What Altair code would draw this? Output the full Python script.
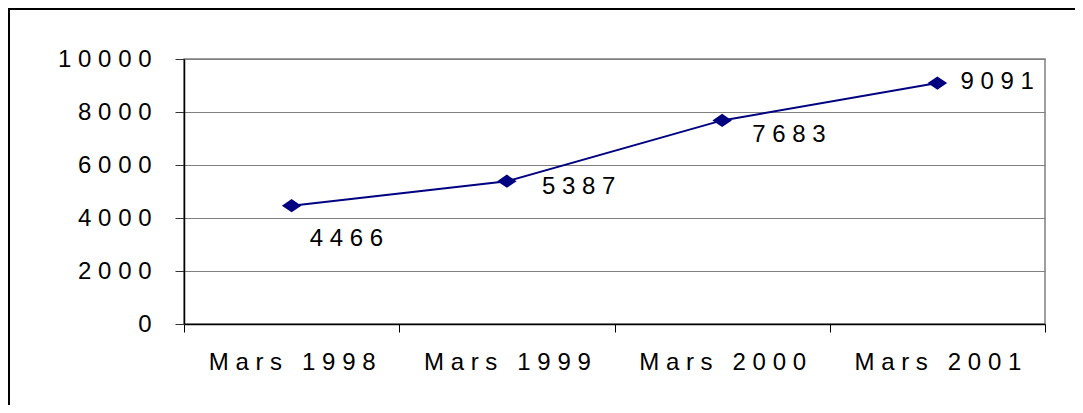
import altair as alt
import pandas as pd

months = ["Mars 1998", "Mars 1999", "Mars 2000", "Mars 2001"]
values = [4466, 5387, 7683, 9091]
y_ticks = [0, 2000, 4000, 6000, 8000, 10000]

# label offsets (styling, in pixels)
label_dx = [18, 35, 30, 23]
label_dy = [33, 6, 15, -1]

df = pd.DataFrame({"month": months, "value": values})

FONT = "Liberation Sans"
FS = 24
NB = "\u00a0"
SPACE_EXPR = "join(split(datum.label, ''), '" + NB + "')"

x = alt.X(
    "month:N",
    sort=months,
    title=None,
    scale=alt.Scale(type="band", paddingInner=0, paddingOuter=0),
    axis=alt.Axis(
        labelAngle=0,
        tickBand="extent",
        tickSize=8,
        tickColor="#000000",
        domainColor="#000000",
        domainWidth=1.5,
        labelFont=FONT,
        labelFontSize=FS,
        labelColor="#000000",
        labelPadding=18,
        labelExpr=SPACE_EXPR,
        grid=False,
    ),
)
y = alt.Y(
    "value:Q",
    title=None,
    scale=alt.Scale(domain=[0, 10000], nice=False),
    axis=alt.Axis(
        values=y_ticks,
        grid=True,
        gridColor="#808080",
        gridWidth=1,
        tickSize=9,
        tickColor="#333333",
        domainColor="#000000",
        domainWidth=1.5,
        labelFont=FONT,
        labelFontSize=FS,
        labelColor="#000000",
        labelPadding=24,
        labelExpr=SPACE_EXPR,
        format="d",
    ),
)

base = alt.Chart(df)

line = base.mark_line(color="#000080", strokeWidth=2).encode(x=x, y=y)
points = base.mark_point(
    shape="M-1,0L0,-0.68L1,0L0,0.68Z",
    size=380,
    filled=True,
    opacity=1,
    color="#000080",
).encode(x=x, y=y)

layers = [line, points]
for m, dx, dy in zip(months, label_dx, label_dy):
    t = (
        base.transform_filter(alt.datum.month == m)
        .transform_calculate(lbl="join(split(toString(datum.value), ''), '" + NB + "')")
        .mark_text(
            align="left",
            baseline="middle",
            dx=dx,
            dy=dy,
            font=FONT,
            fontSize=FS,
            color="#000000",
        )
        .encode(x=x, y=y, text="lbl:N")
    )
    layers.append(t)

border = alt.Chart(alt.Data(values=[{"a": 1}])).mark_rect(
    fill=None, stroke="#000000", strokeWidth=2
).encode(
    x=alt.value(-175), x2=alt.value(1200), y=alt.value(-50), y2=alt.value(600)
)

chart = (
    alt.layer(border, *layers)
    .properties(
        width=861,
        height=265,
        autosize=alt.AutoSizeParams(type="none"),
        padding={"left": 176, "top": 51, "right": 30, "bottom": 81},
        background="#ffffff",
    )
    .configure_view(stroke="#808080", strokeWidth=1.5)
)

chart.save("out.html", embed_options={"renderer": "svg", "actions": False})
